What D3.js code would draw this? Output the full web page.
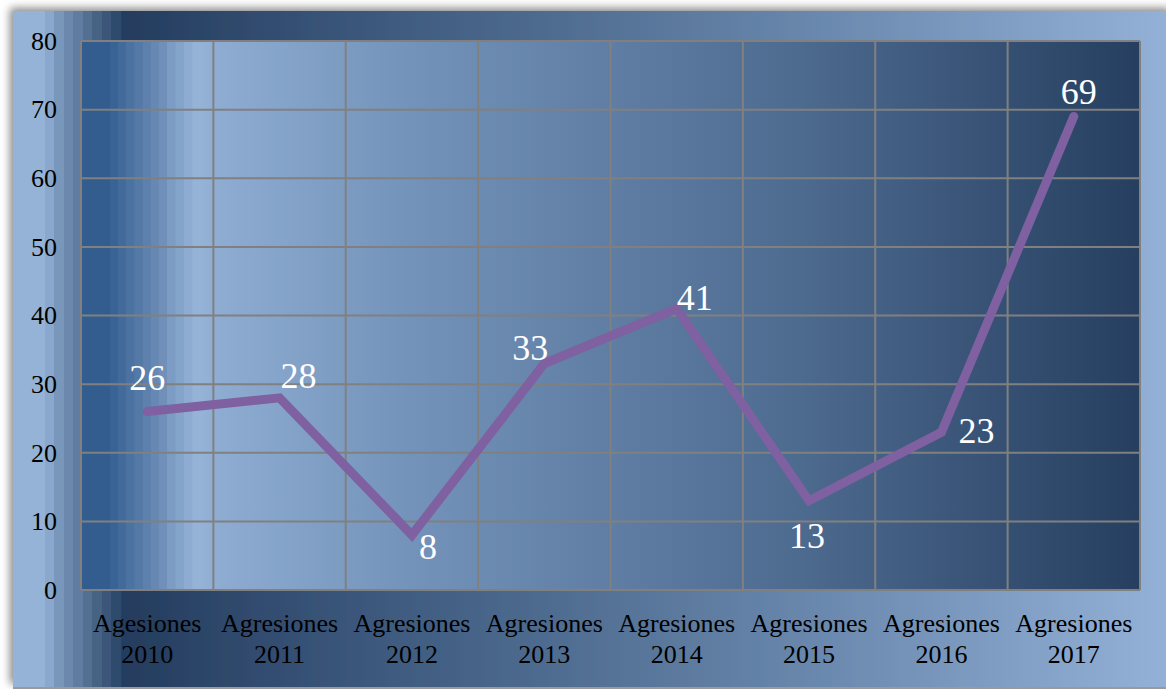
<!DOCTYPE html>
<html>
<head>
<meta charset="utf-8">
<script src="https://cdn.jsdelivr.net/npm/d3@7"></script>
<style>
  body { margin: 0; background: #fff; }
</style>
</head>
<body>
<div id="chart"></div>
<script>
// data
var categories = ["Agesiones 2010", "Agresiones 2011", "Agresiones 2012", "Agresiones 2013",
                  "Agresiones 2014", "Agresiones 2015", "Agresiones 2016", "Agresiones 2017"];
var values = [26, 28, 8, 33, 41, 13, 23, 69];
var yTicks = [0, 10, 20, 30, 40, 50, 60, 70, 80];

// label offsets from each point (dx, dy) - mimics excel placement
var labelOffsets = [[0, -22], [19, -10], [16, 24], [-14, -4], [18, 1], [-2, 47], [35, 11], [5, -12]];

var FONT = "'Liberation Serif'";
var W = 1166, H = 689;
var margin = {top: 41, left: 81},
    width = 1059,
    height = 549;

var svg = d3.select("#chart")
    .append("svg")
    .attr("width", W)
    .attr("height", H)
    .style("font-family", FONT);

var defs = svg.append("defs");

// stepped gradient helper
function stepGrad(id, stops) {
    var g = defs.append("linearGradient").attr("id", id)
        .attr("x1", "0%").attr("x2", "100%").attr("y1", "0%").attr("y2", "0%");
    stops.forEach(function(s) {
        g.append("stop").attr("offset", s[0] + "%").attr("stop-color", s[1]);
        if (s[2] !== undefined) g.append("stop").attr("offset", s[2] + "%").attr("stop-color", s[1]);
    });
}

// outer area runs 13 -> 1166
var outerStops = [[0, "#95b3d7", 2.8]];
var outerSteps = ["#8aa8cd", "#7996bb", "#6c88ad", "#607ca0", "#537092", "#466384", "#3b5779", "#2f4b6d"];
var ox = 45;
outerSteps.forEach(function(c) {
    var a = (ox - 13) / 1160 * 100, b = (ox + 9 - 13) / 1160 * 100;
    outerStops.push([a, c, b]);
    ox += 9.5;
});
outerStops.push([(122 - 13) / 1160 * 100, "#243c5e"]);
outerStops.push([(400 - 13) / 1160 * 100, "#3f5c80"]);
outerStops.push([(800 - 13) / 1160 * 100, "#6886ab"]);
outerStops.push([(1166 - 13) / 1160 * 100, "#93b1d6"]);
stepGrad("outerGrad", outerStops);

// plot area runs 81 -> 1140
var plotStops = [[0, "#335d8f", 2.7]];
var plotSteps = ["#3a6395", "#426a9b", "#4b72a1", "#5479a7", "#5d80ad", "#6688b3", "#7090b9", "#7c9cc4", "#85a4ca", "#8eacd1"];
var px = 110;
plotSteps.forEach(function(c) {
    var a = (px - 81) / 1059 * 100, b = (px + 8 - 81) / 1059 * 100;
    plotStops.push([a, c, b]);
    px += 8.2;
});
plotStops.push([(193 - 81) / 1059 * 100, "#95b3d7", (200 - 81) / 1059 * 100]);
plotStops.push([(220 - 81) / 1059 * 100, "#8eacd1"]);
plotStops.push([(400 - 81) / 1059 * 100, "#7594bb"]);
plotStops.push([(800 - 81) / 1059 * 100, "#4d6a8f"]);
plotStops.push([100, "#263f60"]);
stepGrad("plotGrad", plotStops);

var shadow = defs.append("filter").attr("id", "shadow")
    .attr("x", "-5%").attr("y", "-5%").attr("width", "110%").attr("height", "110%");
shadow.append("feDropShadow").attr("dx", -3).attr("dy", -3).attr("stdDeviation", 4)
    .attr("flood-color", "#7a7a7a").attr("flood-opacity", 0.9);

// outer chart area
svg.append("rect")
    .attr("x", 13).attr("y", 11)
    .attr("width", 1160).attr("height", 676)
    .attr("fill", "url(#outerGrad)")
    .attr("filter", "url(#shadow)");
svg.append("line")
    .attr("x1", 13).attr("x2", W).attr("y1", 688).attr("y2", 688)
    .attr("stroke", "#9a9a9a").attr("stroke-width", 2);

var g = svg.append("g")
    .attr("transform", "translate(" + margin.left + "," + margin.top + ")");

g.append("rect")
    .attr("width", width).attr("height", height)
    .attr("fill", "url(#plotGrad)");

var x = d3.scaleBand()
    .domain(categories)
    .range([0, width]);

var y = d3.scaleLinear()
    .domain([0, 80])
    .range([height, 0]);

// gridlines
g.selectAll(".hgrid")
    .data(yTicks)
    .enter().append("line")
    .attr("x1", 0).attr("x2", width)
    .attr("y1", function(d) { return y(d); })
    .attr("y2", function(d) { return y(d); })
    .attr("stroke", "#808080").attr("stroke-width", 2);

var vlines = categories.map(function(c) { return x(c); }).concat([width]);
g.selectAll(".vgrid")
    .data(vlines)
    .enter().append("line")
    .attr("x1", function(d) { return d; }).attr("x2", function(d) { return d; })
    .attr("y1", 0).attr("y2", height)
    .attr("stroke", "#808080").attr("stroke-width", 2);

// y axis
var yAxis = g.append("g")
    .call(d3.axisLeft(y).tickValues(yTicks).tickSize(0).tickPadding(24))
    .attr("font-family", null)
    .attr("font-size", null);
yAxis.select(".domain").remove();
yAxis.selectAll("text")
    .attr("fill", "#000")
    .style("font-size", "26px")
    .style("font-family", FONT);

// x axis, two-line labels
var xAxis = g.append("g")
    .attr("transform", "translate(0," + height + ")")
    .call(d3.axisBottom(x).tickSize(0).tickFormat(""))
    .attr("font-family", null)
    .attr("font-size", null);
xAxis.select(".domain").remove();
xAxis.selectAll(".tick").each(function(d) {
    var parts = d.split(" ");
    var t = d3.select(this).append("text")
        .attr("fill", "#000")
        .attr("text-anchor", "middle")
        .style("font-size", "26px")
        .style("font-family", FONT);
    t.append("tspan").attr("x", 0).attr("y", 42).text(parts[0]);
    t.append("tspan").attr("x", 0).attr("y", 73).text(parts[1]);
});

// line
var line = d3.line()
    .x(function(d, i) { return x(categories[i]) + x.bandwidth() / 2; })
    .y(function(d) { return y(d); });

g.append("path")
    .datum(values)
    .attr("d", line)
    .attr("fill", "none")
    .attr("stroke", "#7f60a1")
    .attr("stroke-width", 9)
    .attr("stroke-linecap", "round")
    .attr("stroke-linejoin", "miter");

// data labels
g.selectAll(".lbl")
    .data(values)
    .enter().append("text")
    .attr("x", function(d, i) { return x(categories[i]) + x.bandwidth() / 2 + labelOffsets[i][0]; })
    .attr("y", function(d, i) { return y(d) + labelOffsets[i][1]; })
    .attr("text-anchor", "middle")
    .attr("fill", "#fff")
    .style("font-size", "36px")
    .style("font-family", FONT)
    .text(function(d) { return d; });
</script>
</body>
</html>
